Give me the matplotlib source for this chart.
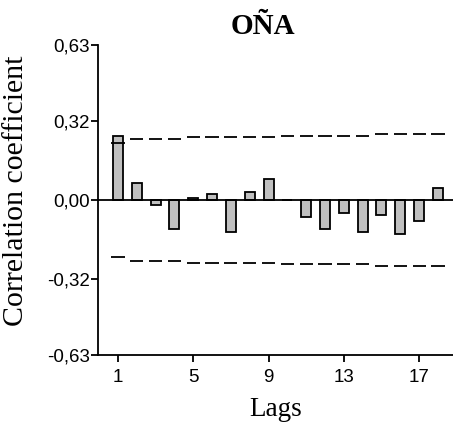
import matplotlib
matplotlib.use("Agg")
import matplotlib.pyplot as plt
import numpy as np

lags = np.arange(1, 19)
acf = [0.26, 0.07, -0.022, -0.117, 0.01, 0.024, -0.13, 0.031, 0.085,
       0.0, -0.07, -0.117, -0.054, -0.13, -0.062, -0.138, -0.085, 0.047]
conf = [0.232, 0.247, 0.247, 0.247, 0.255, 0.255, 0.255, 0.255, 0.255,
        0.262, 0.262, 0.262, 0.262, 0.262, 0.268, 0.268, 0.268, 0.268]
yticks = [-0.63, -0.32, 0.0, 0.32, 0.63]
xticks = [1, 5, 9, 13, 17]

fig = plt.figure(figsize=(4.53, 4.34), dpi=100)
ax = fig.add_axes([98 / 453, 79 / 434, 355 / 453, 310 / 434])

ax.bar(lags, acf, width=0.53, color='#c0c0c0', edgecolor='black', linewidth=1.3, zorder=2)
ax.axhline(0, color='black', linewidth=1.3, zorder=3)

# confidence band, one dash per lag
conf = np.asarray(conf)
ax.hlines(conf, lags - 0.35, lags + 0.35, color='black', linewidth=1.3)
ax.hlines(-conf, lags - 0.35, lags + 0.35, color='black', linewidth=1.3)

ax.set_xlim(-0.06, 18.8)
ax.set_ylim(-0.63, 0.63)
ax.set_xticks(xticks)
ax.set_yticks(yticks)
ax.set_yticklabels([f'{v:.2f}'.replace('.', ',') for v in yticks])
ax.tick_params(labelsize=13.5, length=5, width=1.3, direction='out')
for lbl in ax.get_xticklabels() + ax.get_yticklabels():
    lbl.set_family('Liberation Sans')
ax.tick_params(axis='y', pad=1)
ax.tick_params(axis='x', pad=5)

for s in ['top', 'right']:
    ax.spines[s].set_visible(False)
for s in ['left', 'bottom']:
    ax.spines[s].set_linewidth(1.3)

ax.set_title('OÑA', fontsize=21, fontweight='bold', family='Liberation Serif',
             pad=8, x=0.465)
ax.set_xlabel('Lags', fontsize=19.5, family='Liberation Serif', labelpad=8)
ax.set_ylabel('Correlation coefficient', fontsize=21.5, family='Liberation Serif')
ax.yaxis.set_label_coords(-0.195, 0.53)

fig.savefig('out.png', dpi=100)
